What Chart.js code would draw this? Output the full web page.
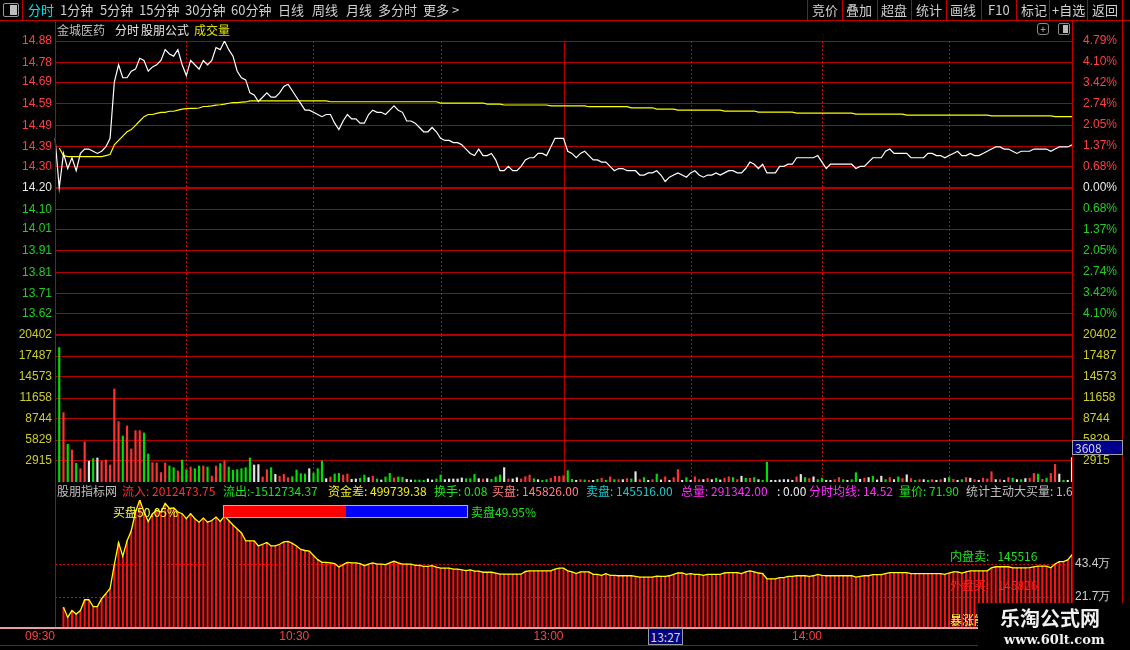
<!DOCTYPE html>
<html lang="zh">
<head>
<meta charset="UTF-8">
<title>金城医药 分时</title>
<script src="https://cdn.jsdelivr.net/npm/chart.js"></script>
<style>
    * { margin: 0; padding: 0; box-sizing: border-box; }
    body {
        width: 1130px; height: 650px; overflow: hidden; position: relative;
        background: #000; font-family: "Noto Sans CJK SC", sans-serif; color: #c8c8c8;
    }
    canvas { position: absolute; left: 0; top: 0; }
    .t { position: absolute; white-space: nowrap; font-size: 12px; line-height: 14px; }
    .tb { position: absolute; top: 2px; font-size: 13px; line-height: 16px; color: #d0d0d0; white-space: nowrap; }
    .ln { position: absolute; background: #c00000; }
    .vsep { position: absolute; top: 0; width: 1px; height: 20px; background: #c00000; }
</style>
</head>
<body>
<canvas id="priceChart" width="1130" height="650"></canvas>
<canvas id="volChart" width="1130" height="650"></canvas>
<canvas id="lowChart" width="1130" height="650"></canvas>

<!-- barre d'outils -->
<div class="ln" style="left:0;top:20px;width:1130px;height:1px"></div>
<div style="position:absolute;left:3px;top:3px;width:16px;height:14px;border:1px solid #9a9a9a;border-radius:2px"></div>
<div style="position:absolute;left:10px;top:5px;width:7px;height:10px;background:#bdbdbd"></div>
<div class="vsep" style="left:22px"></div>
<span class="tb" style="left:28px;color:#00e8e8">分时</span>
<span class="tb" style="left:60px">1分钟</span>
<span class="tb" style="left:100px">5分钟</span>
<span class="tb" style="left:139px">15分钟</span>
<span class="tb" style="left:185px">30分钟</span>
<span class="tb" style="left:231px">60分钟</span>
<span class="tb" style="left:278px">日线</span>
<span class="tb" style="left:312px">周线</span>
<span class="tb" style="left:346px">月线</span>
<span class="tb" style="left:378px">多分时</span>
<span class="tb" style="left:423px">更多 &gt;</span>
<div class="vsep" style="left:807px"></div>
<span class="tb" style="left:812px">竞价</span>
<div class="vsep" style="left:842px"></div>
<span class="tb" style="left:846px">叠加</span>
<div class="vsep" style="left:877px"></div>
<span class="tb" style="left:881px">超盘</span>
<div class="vsep" style="left:911px"></div>
<span class="tb" style="left:916px">统计</span>
<div class="vsep" style="left:946px"></div>
<span class="tb" style="left:950px">画线</span>
<div class="vsep" style="left:981px"></div>
<span class="tb" style="left:988px">F10</span>
<div class="vsep" style="left:1016px"></div>
<span class="tb" style="left:1021px">标记</span>
<div class="vsep" style="left:1049px"></div>
<span class="tb" style="left:1052px">+自选</span>
<div class="vsep" style="left:1087px"></div>
<span class="tb" style="left:1092px">返回</span>
<div class="ln" style="left:1122px;top:0;width:1px;height:650px"></div>

<!-- en-tête du graphique -->
<span class="t" style="left:57px;top:23px;color:#c0c0c0">金城医药</span>
<span class="t" style="left:115px;top:23px;color:#e8e8e8">分时</span>
<span class="t" style="left:141px;top:23px;color:#e8e8e8">股朋公式</span>
<span class="t" style="left:194px;top:23px;color:#e0e000">成交量</span>
<div style="position:absolute;left:1037px;top:23px;width:12px;height:12px;border:1px solid #8a8a8a;border-radius:3px;color:#bbb;font-size:10px;line-height:10px;text-align:center">+</div>
<div style="position:absolute;left:1058px;top:23px;width:12px;height:12px;border:1px solid #8a8a8a;border-radius:2px"></div>
<div style="position:absolute;left:1063px;top:25px;width:5px;height:8px;background:#bbb"></div>

<!-- cadres -->
<div class="ln" style="left:55px;top:20px;width:1px;height:607px"></div>
<div class="ln" style="left:1072px;top:20px;width:1px;height:607px"></div>
<div class="ln" style="left:0;top:627px;width:1130px;height:2px;background:#e8a0a0"></div>
<div class="ln" style="left:0;top:645px;width:1130px;height:1px"></div>

<!-- valeur curseur volume -->
<div class="t" style="left:1072px;top:440px;width:51px;height:15px;background:#00008c;border:1px solid #a0a0a0;color:#d8d8d8;padding-left:2px">3608</div>

<!-- ligne d'indicateurs -->
<div style="position:absolute;left:56px;top:484px;width:1016px;height:15px;overflow:hidden">
    <span class="t" style="left:1px;color:#c0c0c0">股朋指标网</span>
    <span class="t" style="left:66px;color:#ff3030">流入: 2012473.75</span>
    <span class="t" style="left:167px;color:#20e020">流出:-1512734.37</span>
    <span class="t" style="left:272px;color:#f0f020">资金差: 499739.38</span>
    <span class="t" style="left:378px;color:#20e020">换手: 0.08</span>
    <span class="t" style="left:436px;color:#ff8080">买盘: 145826.00</span>
    <span class="t" style="left:530px;color:#20c8c8">卖盘: 145516.00</span>
    <span class="t" style="left:625px;color:#ff30ff">总量: 291342.00</span>
    <span class="t" style="left:721px;color:#f0f0f0">: 0.00</span>
    <span class="t" style="left:753px;color:#ff30ff">分时均线: 14.52</span>
    <span class="t" style="left:843px;color:#20e020">量价: 71.90</span>
    <span class="t" style="left:910px;color:#c0c0c0">统计主动大买量: 1.6</span>
</div>

<!-- panneau inférieur -->
<span class="t" style="left:113px;top:505px;color:#ffff40">买盘50.05%</span>
<div style="position:absolute;left:223px;top:505px;width:245px;height:13px;border:1px solid #b0b0b0;background:#0000ff">
    <div style="width:122px;height:11px;background:#ff0000"></div>
</div>
<span class="t" style="left:471px;top:505px;color:#20e020">卖盘49.95%</span>
<span class="t" style="left:950px;top:549px;color:#20e020">内盘卖:&nbsp;&nbsp;&nbsp;145516</span>
<span class="t" style="left:950px;top:578px;color:#ff2020">外盘买:&nbsp;&nbsp;&nbsp;145826</span>
<span class="t" style="left:950px;top:613px;color:#ffff40">暴涨能</span>

<!-- curseur temps -->
<div class="t" style="left:648px;top:628px;width:35px;height:17px;background:#000080;border:1px solid #9a9a9a;color:#d8d8d8;text-align:center;line-height:15px">13:27</div>

<!-- filigrane -->
<div style="position:absolute;left:978px;top:603px;width:152px;height:47px;background:#000"></div>
<span class="t" style="left:1000px;top:606px;font-size:20px;line-height:24px;font-weight:bold;color:#f0f0f0">乐淘公式网</span>
<span class="t" style="left:1004px;top:632px;font-size:13px;line-height:15px;font-weight:bold;color:#f0f0f0;font-family:'DejaVu Serif',serif">www.60lt.com</span>

<script>
// --- données ---
const priceTicks = [14.88, 14.78, 14.69, 14.59, 14.49, 14.39, 14.30, 14.20, 14.10, 14.01, 13.91, 13.81, 13.71, 13.62];
const pctTicks = [4.79, 4.10, 3.42, 2.74, 2.05, 1.37, 0.68, 0.00, -0.68, -1.37, -2.05, -2.74, -3.42, -4.10];
const volTicks = [20402, 17487, 14573, 11658, 8744, 5829, 2915];
const lowTicks = [21.7, 43.4];
const preClose = 14.20;

const timeAxisIdx = [0, 60, 120, 181];
const timeAxisText = ['09:30', '10:30', '13:00', '14:00'];
const halfHourIdx = [31, 61, 91, 150, 181, 211];
const noonIdx = 120;

// prix minute par minute (09:30 -> 15:00)
const price = [
    14.43, 14.20, 14.36, 14.29, 14.34, 14.28, 14.36, 14.38, 14.38, 14.37,
    14.36, 14.37, 14.39, 14.43, 14.69, 14.77, 14.71, 14.71, 14.74, 14.75,
    14.80, 14.79, 14.74, 14.76, 14.77, 14.79, 14.84, 14.82, 14.81, 14.84,
    14.77, 14.72, 14.79, 14.77, 14.75, 14.79, 14.77, 14.79, 14.85, 14.84,
    14.88, 14.84, 14.81, 14.74, 14.71, 14.70, 14.64, 14.63, 14.60, 14.62,
    14.64, 14.62, 14.62, 14.64, 14.67, 14.68, 14.65, 14.62, 14.59, 14.56,
    14.56, 14.55, 14.54, 14.53, 14.54, 14.54, 14.50, 14.47, 14.51, 14.54,
    14.52, 14.52, 14.50, 14.50, 14.54, 14.56, 14.55, 14.55, 14.54, 14.56,
    14.58, 14.56, 14.55, 14.51, 14.51, 14.50, 14.48, 14.46, 14.46, 14.48,
    14.46, 14.43, 14.42, 14.42, 14.41, 14.41, 14.40, 14.38, 14.36, 14.35,
    14.38, 14.35, 14.35, 14.36, 14.33, 14.28, 14.28, 14.30, 14.28, 14.28,
    14.30, 14.33, 14.34, 14.34, 14.36, 14.36, 14.35, 14.39, 14.43, 14.43,
    14.43, 14.37, 14.36, 14.34, 14.36, 14.37, 14.35, 14.33, 14.33, 14.32,
    14.32, 14.30, 14.28, 14.29, 14.29, 14.28, 14.28, 14.28, 14.26, 14.26,
    14.27, 14.27, 14.28, 14.26, 14.23, 14.25, 14.26, 14.27, 14.26, 14.25,
    14.27, 14.28, 14.26, 14.25, 14.26, 14.26, 14.27, 14.26, 14.27, 14.28,
    14.28, 14.27, 14.27, 14.29, 14.32, 14.31, 14.29, 14.31, 14.27, 14.27,
    14.27, 14.30, 14.30, 14.31, 14.31, 14.34, 14.34, 14.34, 14.34, 14.34,
    14.35, 14.32, 14.29, 14.31, 14.31, 14.31, 14.31, 14.31, 14.31, 14.29,
    14.30, 14.30, 14.32, 14.34, 14.34, 14.34, 14.37, 14.38, 14.36, 14.36,
    14.36, 14.36, 14.34, 14.34, 14.34, 14.34, 14.36, 14.36, 14.35, 14.35,
    14.34, 14.35, 14.36, 14.37, 14.35, 14.35, 14.36, 14.35, 14.35, 14.36,
    14.37, 14.38, 14.39, 14.39, 14.38, 14.38, 14.37, 14.36, 14.37, 14.37,
    14.37, 14.38, 14.38, 14.38, 14.38, 14.37, 14.38, 14.39, 14.39, 14.39,
    14.40
];

// prix moyen (ligne jaune)
const avgPrice = [
    null,
    14.385, 14.350, 14.345, 14.345, 14.345, 14.345, 14.345, 14.345, 14.345, 14.345,
    14.345, 14.350, 14.355, 14.400, 14.420, 14.440, 14.460, 14.470, 14.490, 14.510,
    14.530, 14.540, 14.540, 14.545, 14.550, 14.550, 14.555, 14.555, 14.560, 14.565,
    14.567, 14.568, 14.568, 14.570, 14.577, 14.578, 14.580, 14.583, 14.585, 14.588,
    14.592, 14.595, 14.595, 14.597, 14.598, 14.603, 14.603, 14.603, 14.603, 14.603,
    14.603, 14.603, 14.603, 14.603, 14.603, 14.603, 14.603, 14.603, 14.603, 14.603,
    14.603, 14.603, 14.603, 14.603, 14.599, 14.599, 14.599, 14.599, 14.599, 14.599,
    14.599, 14.599, 14.599, 14.599, 14.599, 14.599, 14.599, 14.599, 14.599, 14.599,
    14.599, 14.599, 14.599, 14.599, 14.599, 14.599, 14.599, 14.599, 14.599, 14.599,
    14.593, 14.593, 14.593, 14.593, 14.593, 14.593, 14.593, 14.593, 14.593, 14.593,
    14.593, 14.588, 14.588, 14.588, 14.588, 14.584, 14.584, 14.584, 14.584, 14.584,
    14.584, 14.584, 14.584, 14.584, 14.584, 14.584, 14.580, 14.580, 14.580, 14.580,
    14.580, 14.580, 14.580, 14.580, 14.580, 14.576, 14.576, 14.576, 14.576, 14.576,
    14.576, 14.576, 14.576, 14.576, 14.576, 14.571, 14.571, 14.571, 14.571, 14.571,
    14.571, 14.565, 14.565, 14.565, 14.565, 14.565, 14.560, 14.560, 14.560, 14.560,
    14.560, 14.560, 14.560, 14.560, 14.560, 14.560, 14.560, 14.556, 14.556, 14.556,
    14.556, 14.556, 14.556, 14.556, 14.556, 14.551, 14.551, 14.551, 14.551, 14.551,
    14.551, 14.551, 14.551, 14.551, 14.546, 14.546, 14.546, 14.546, 14.546, 14.546,
    14.546, 14.546, 14.546, 14.546, 14.546, 14.546, 14.546, 14.546, 14.542, 14.542,
    14.542, 14.542, 14.542, 14.542, 14.542, 14.542, 14.542, 14.542, 14.542, 14.542,
    14.537, 14.537, 14.537, 14.537, 14.537, 14.537, 14.537, 14.537, 14.537, 14.537,
    14.537, 14.537, 14.537, 14.537, 14.537, 14.537, 14.537, 14.537, 14.537, 14.537,
    14.534, 14.534, 14.534, 14.534, 14.534, 14.534, 14.534, 14.534, 14.534, 14.534,
    14.534, 14.534, 14.534, 14.534, 14.534, 14.530, 14.530, 14.530, 14.530, 14.530
];

// volume par minute et sens (R = hausse, G = baisse, W = neutre)
const volume = [
    0,
    18660, 9630, 5230, 4445, 2590, 1850, 5560, 2900, 3240, 3330,
    2900, 3050, 2360, 12920, 8380, 6390, 7780, 4580, 7130, 7130,
    6800, 3890, 2690, 2640, 1300, 2640, 2220, 1990, 1530, 3050,
    1710, 2080, 1850, 2220, 2220, 2080, 830, 2220, 2550, 2920,
    2080, 1620, 1710, 1850, 1990, 3330, 2360, 2410, 700, 1710,
    1990, 1060, 790, 1060, 600, 740, 1670, 1160, 1110, 1850,
    1250, 1850, 2920, 460, 700, 1110, 1200, 970, 1110, 370,
    420, 510, 970, 600, 790, 420, 280, 700, 1200, 560,
    700, 650, 370, 280, 280, 280, 230, 420, 280, 420,
    970, 320, 420, 420, 420, 560, 460, 460, 1060, 460,
    420, 460, 370, 700, 970, 1990, 420, 420, 600, 420,
    740, 970, 460, 320, 230, 320, 510, 790, 790, 880,
    1580, 380, 240, 330, 290, 240, 240, 380, 530, 240,
    720, 330, 330, 330, 480, 430, 1430, 330, 620, 240,
    330, 1100, 290, 720, 240, 620, 1720, 240, 620, 240,
    720, 330, 330, 480, 330, 530, 290, 530, 720, 620,
    330, 810, 530, 530, 620, 330, 240, 2770, 240, 240,
    290, 330, 330, 240, 720, 1050, 620, 480, 720, 330,
    530, 240, 240, 330, 620, 330, 240, 330, 1290, 380,
    530, 620, 810, 290, 810, 330, 620, 330, 720, 480,
    1000, 480, 240, 330, 330, 240, 330, 240, 330, 530,
    620, 380, 240, 330, 620, 530, 330, 240, 530, 430,
    1430, 330, 330, 240, 620, 530, 330, 330, 480, 530,
    1190, 1100, 380, 530, 1190, 2440, 1100, 240, 240, 3390
];
const volSide = [
    'W',
    'G','R','G','R','G','R','R','W','G','W',
    'R','R','R','R','R','G','R','R','R','R',
    'G','G','R','R','R','R','G','G','R','G',
    'G','R','G','G','R','G','R','R','G','R',
    'G','G','G','G','G','G','W','W','R','R',
    'G','W','R','R','R','G','G','G','G','W',
    'G','G','G','W','R','G','G','R','R','W',
    'W','G','G','W','R','G','W','G','G','R',
    'G','G','W','W','G','G','G','W','W','G',
    'G','W','W','W','W','W','G','G','G','W',
    'R','W','G','G','G','W','R','W','W','R',
    'R','R','G','W','G','G','R','R','R','R',
    'G','G','W','R','G','R','W','G','R','G',
    'R','G','R','W','R','G','W','R','G','W',
    'R','G','W','R','W','R','R','W','G','W',
    'R','R','W','R','W','G','W','R','R','G',
    'R','W','G','R','G','W','G','G','W','W',
    'W','W','W','W','R','W','G','R','W','G',
    'G','W','W','R','R','G','W','G','G','W',
    'R','W','G','W','W','G','R','W','G','R',
    'W','R','G','R','W','G','R','W','R','W',
    'G','R','W','G','R','W','R','W','R','R',
    'R','W','R','W','R','G','W','G','W','R',
    'R','G','R','G','R','R','W','G','W','W'
];

// indicateur du bas (en 万)
const buyLine = [
    null, null,
    15.0, 8.3, 12.8, 10.5, 12.8, 19.9, 19.9, 15.4, 15.4, 20.6,
    23.9, 27.3, 43.0, 57.5, 48.5, 58.6, 65.3, 77.6, 85.5, 77.6,
    71.4, 76.5, 78.7, 77.6, 83.2, 79.9, 80.3, 77.6, 76.5, 73.2,
    76.5, 73.2, 70.9, 73.6, 70.9, 72.0, 74.3, 71.4, 74.9, 72.0,
    69.1, 66.4, 63.8, 58.6, 58.6, 58.6, 55.3, 56.4, 57.5, 55.3,
    55.3, 56.4, 57.9, 58.2, 57.0, 55.3, 53.0, 52.3, 51.9, 49.0,
    46.3, 44.5, 44.5, 44.1, 43.6, 41.4, 43.0, 44.5, 44.1, 44.1,
    43.6, 42.3, 43.4, 44.1, 43.4, 43.4, 43.0, 44.1, 45.2, 44.1,
    43.4, 43.4, 43.4, 42.5, 42.5, 41.8, 41.8, 42.3, 41.4, 40.7,
    40.7, 40.7, 40.0, 40.0, 39.6, 39.1, 39.6, 38.7, 38.7, 38.0,
    38.0, 38.0, 37.4, 36.7, 36.7, 36.7, 36.7, 36.7, 36.7, 38.5,
    38.9, 38.9, 38.9, 38.9, 38.9, 38.9, 40.0, 40.7, 40.7,
    38.9, 38.2, 37.1, 38.2, 38.2, 38.2, 36.6, 36.6, 35.9, 37.1,
    35.9, 35.9, 35.7, 35.7, 35.7, 35.7, 35.3, 34.8, 34.8, 34.8,
    34.8, 35.5, 35.3, 35.3, 35.7, 36.6, 37.5, 37.5, 36.6, 37.1,
    36.6, 36.6, 35.9, 36.6, 36.6, 36.6, 36.6, 37.5, 37.7, 37.7,
    37.7, 37.1, 38.2, 38.9, 38.2, 37.5, 37.1, 33.7, 33.7, 33.7,
    34.4, 34.4, 35.3, 35.3, 35.7, 35.7, 35.7, 35.3, 35.7, 36.6,
    35.9, 35.7, 35.7, 35.7, 35.7, 35.7, 35.7, 35.7, 34.8, 35.3,
    35.7, 35.7, 36.4, 36.4, 36.4, 37.1, 37.7, 37.7, 37.7, 37.7,
    37.7, 37.1, 37.1, 37.1, 37.1, 37.1, 37.1, 37.1, 37.1, 36.6,
    37.5, 38.2, 38.2, 37.5, 38.2, 38.9, 38.9, 38.9, 38.9, 38.9,
    40.9, 41.6, 41.6, 41.6, 41.6, 40.9, 40.9, 40.9, 40.9, 41.1,
    41.6, 42.0, 42.0, 42.0, 40.9, 43.4, 45.0, 45.0, 46.1, 49.5
];

// axe des temps : 09:30-11:30 puis 13:01-15:00
const pad2 = n => String(n).padStart(2, '0');
const minutes = [];
for (let t = 570; t <= 690; t++) minutes.push(pad2(Math.floor(t / 60)) + ':' + pad2(t % 60));
for (let t = 781; t <= 900; t++) minutes.push(pad2(Math.floor(t / 60)) + ':' + pad2(t % 60));

// --- style commun ---
const GRID = '#b40000';
const RED = '#ff4040', GREEN = '#20d020', WHITE = '#e8e8e8', OLIVE = '#cccc30';
const tickFont = { family: '"Liberation Sans", Arial, sans-serif', size: 12 };
const sideColor = { R: '#ff3232', G: '#00e000', W: '#e6e6e6' };

const leftW = s => { s.width = 55; };
const rightW = s => { s.width = 58; };
const fixTicks = list => s => { s.ticks = list.map(v => ({ value: v })); };

const hiddenX = { type: 'category', display: false, offset: false };

const baseOpts = {
    responsive: false,
    animation: false,
    events: [],
    plugins: { legend: { display: false }, tooltip: { enabled: false } }
};

// lignes verticales de la demi-heure
const timeGrid = {
    id: 'timeGrid',
    beforeDatasetsDraw(chart) {
        const { ctx, chartArea: a, scales: { x } } = chart;
        ctx.save();
        ctx.strokeStyle = '#d00000';
        ctx.lineWidth = 1;
        ctx.setLineDash([2, 2]);
        halfHourIdx.forEach(i => {
            const px = Math.round(x.getPixelForValue(i)) + 0.5;
            ctx.beginPath(); ctx.moveTo(px, a.top); ctx.lineTo(px, a.bottom); ctx.stroke();
        });
        ctx.setLineDash([]);
        ctx.strokeStyle = GRID;
        const px = Math.round(x.getPixelForValue(noonIdx)) + 0.5;
        ctx.beginPath(); ctx.moveTo(px, a.top); ctx.lineTo(px, a.bottom); ctx.stroke();
        ctx.restore();
    }
};

// étiquettes de l'axe des temps
const timeLabels = {
    id: 'timeLabels',
    afterDraw(chart) {
        const { ctx, scales: { x } } = chart;
        ctx.save();
        ctx.font = '12px "Liberation Sans", Arial, sans-serif';
        ctx.fillStyle = RED;
        ctx.textAlign = 'right';
        ctx.textBaseline = 'middle';
        timeAxisIdx.forEach((i, k) => ctx.fillText(timeAxisText[k], x.getPixelForValue(i), 637));
        ctx.restore();
    }
};

const sign = v => Math.abs(v) < 1e-6 ? 0 : (v > 0 ? 1 : -1);

// 1) prix
new Chart(document.getElementById('priceChart'), {
    type: 'line',
    data: {
        labels: minutes,
        datasets: [
            { data: price, borderColor: '#ffffff', borderWidth: 1.2, pointRadius: 0, tension: 0 },
            { data: avgPrice, borderColor: '#ffff00', borderWidth: 1.2, pointRadius: 0, tension: 0 }
        ]
    },
    options: {
        ...baseOpts,
        layout: { padding: { top: 41, bottom: 315, left: 0, right: 0 } },
        scales: {
            x: hiddenX,
            y: {
                position: 'left', min: 13.52, max: 14.88,
                afterBuildTicks: fixTicks(priceTicks), afterFit: leftW,
                border: { display: false },
                grid: { color: GRID, drawTicks: false, lineWidth: c => Math.abs(c.tick.value - preClose) < 1e-6 ? 2 : 1 },
                ticks: {
                    font: tickFont, padding: 3,
                    callback: v => v.toFixed(2),
                    color: c => [GREEN, WHITE, RED][sign(c.tick.value - preClose) + 1]
                }
            },
            yPct: {
                position: 'right', min: -4.79, max: 4.79,
                afterBuildTicks: fixTicks(pctTicks), afterFit: rightW,
                border: { display: false },
                grid: { display: false },
                ticks: {
                    font: tickFont, padding: 3,
                    callback: v => Math.abs(v).toFixed(2) + '%',
                    color: c => [GREEN, WHITE, RED][sign(c.tick.value) + 1]
                }
            }
        }
    },
    plugins: [timeGrid]
});

// 2) volume
new Chart(document.getElementById('volChart'), {
    type: 'bar',
    data: {
        labels: minutes,
        datasets: [{
            data: volume,
            backgroundColor: volSide.map(s => sideColor[s]),
            barThickness: 1.5
        }]
    },
    options: {
        ...baseOpts,
        layout: { padding: { top: 335, bottom: 168, left: 0, right: 0 } },
        scales: {
            x: hiddenX,
            y: {
                position: 'left', min: 0, max: 20402,
                afterBuildTicks: fixTicks(volTicks), afterFit: leftW,
                border: { display: false },
                grid: { color: GRID, drawTicks: false, lineWidth: c => c.tick.value === volTicks[0] ? 2 : 1 },
                ticks: { font: tickFont, padding: 3, color: OLIVE, callback: v => String(v) }
            },
            yR: {
                position: 'right', min: 0, max: 20402,
                afterBuildTicks: fixTicks(volTicks), afterFit: rightW,
                border: { display: false },
                grid: { display: false },
                ticks: { font: tickFont, padding: 3, color: OLIVE, callback: v => String(v) }
            }
        }
    },
    plugins: [timeGrid]
});

// 3) indicateur du bas
new Chart(document.getElementById('lowChart'), {
    type: 'bar',
    data: {
        labels: minutes,
        datasets: [
            { type: 'line', data: buyLine, borderColor: '#ffff00', borderWidth: 1.3, pointRadius: 0, tension: 0, yAxisID: 'y' },
            { type: 'bar', data: buyLine, backgroundColor: '#ff1010', barThickness: 1.4, yAxisID: 'y' }
        ]
    },
    options: {
        ...baseOpts,
        layout: { padding: { top: 500, bottom: 23, left: 0, right: 0 } },
        scales: {
            x: hiddenX,
            yL: {
                position: 'left', min: 2, max: 85.5, afterFit: leftW,
                border: { display: false }, grid: { display: false }, ticks: { display: false }
            },
            y: {
                position: 'right', min: 2, max: 85.5,
                afterBuildTicks: fixTicks(lowTicks), afterFit: rightW,
                border: { display: false, dash: [2, 2] },
                grid: { color: '#e00000', drawTicks: false },
                ticks: { font: tickFont, padding: 3, color: '#d0d0d0', callback: v => v.toFixed(1) + '万' }
            }
        }
    },
    plugins: [timeLabels]
});
</script>
</body>
</html>
